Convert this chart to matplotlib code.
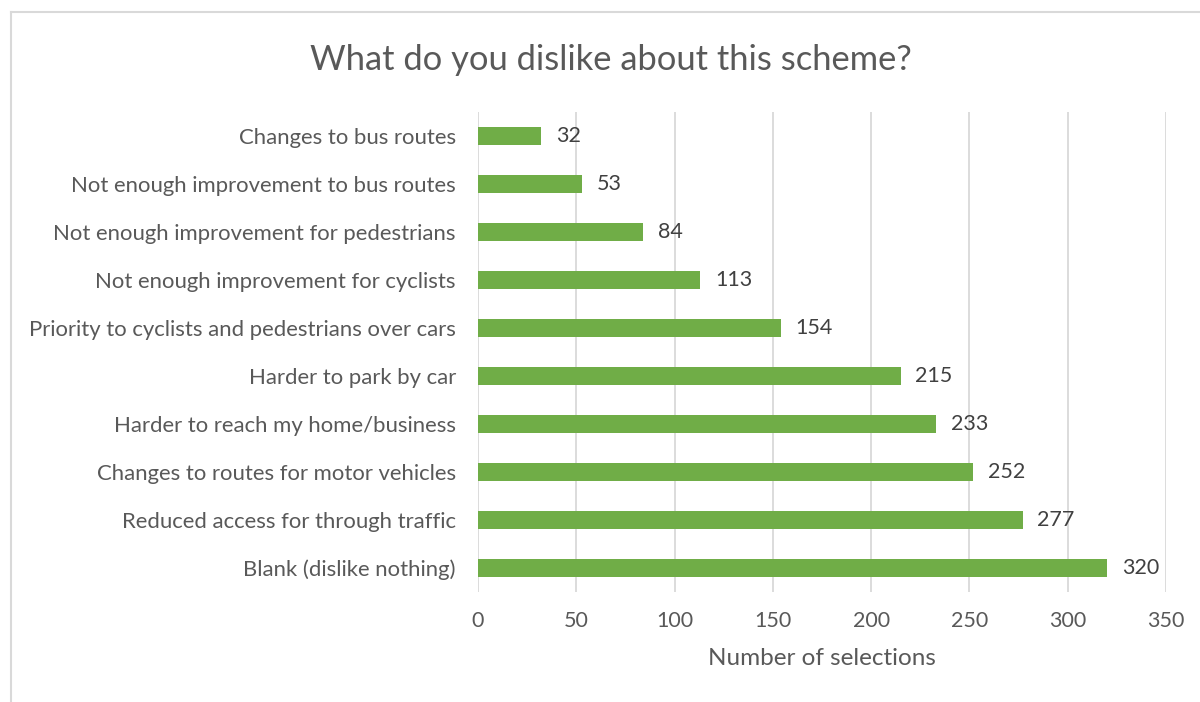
import matplotlib.pyplot as plt
from matplotlib.lines import Line2D

categories = [
    "Changes to bus routes",
    "Not enough improvement to bus routes",
    "Not enough improvement for pedestrians",
    "Not enough improvement for cyclists",
    "Priority to cyclists and pedestrians over cars",
    "Harder to park by car",
    "Harder to reach my home/business",
    "Changes to routes for motor vehicles",
    "Reduced access for through traffic",
    "Blank (dislike nothing)",
]
counts = [32, 53, 84, 113, 154, 215, 233, 252, 277, 320]
xticks = [0, 50, 100, 150, 200, 250, 300, 350]

plt.rcParams['font.family'] = ['Lato', 'DejaVu Sans']

fig = plt.figure(figsize=(12, 7.02), dpi=100)
ax = fig.add_axes([478 / 1200, 110 / 702, 688 / 1200, 480 / 702])

ypos = list(range(len(categories)))
ax.barh(ypos, counts, height=0.375, color="#70AD47", zorder=3)
for y, v in zip(ypos, counts):
    ax.text(v + 7.5, y, str(v), va="center", ha="left", fontsize=15.5, color="#404040")

ax.set_yticks(ypos)
ax.set_yticklabels(categories, fontsize=15.9, color="#595959")
ax.set_ylim(len(categories) - 0.5, -0.5)
ax.set_xlim(0, 350)
ax.set_xticks(xticks)
ax.set_xticklabels([str(t) for t in xticks], fontsize=15.5, color="#595959")
ax.tick_params(axis="both", length=0)
ax.tick_params(axis="y", pad=16)
ax.tick_params(axis="x", pad=14)
ax.grid(axis="x", color="#D9D9D9", linewidth=1.3, zorder=0)
for s in ax.spines.values():
    s.set_visible(False)
ax.set_xlabel("Number of selections", fontsize=17.5, color="#595959", labelpad=12)

fig.text(611 / 1200, 1 - 60 / 702, "What do you dislike about this scheme?", ha="center", va="center",
         fontsize=24.8, color="#595959")

# chart frame (left and top edges visible)
fig.add_artist(Line2D([11 / 1200, 11 / 1200], [0, 1 - 12 / 702], color="#D9D9D9", linewidth=1.5))
fig.add_artist(Line2D([11 / 1200, 1], [1 - 12 / 702, 1 - 12 / 702], color="#D9D9D9", linewidth=1.5))

fig.savefig("out.png", dpi=100, facecolor="white")
